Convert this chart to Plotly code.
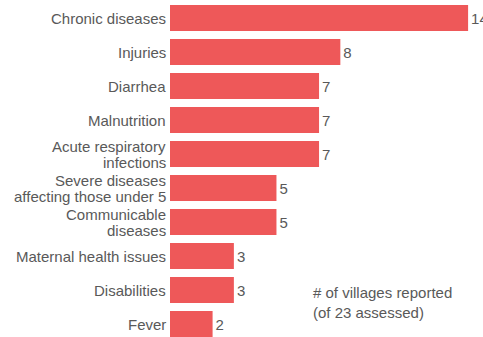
import plotly.graph_objects as go

categories = ["Chronic diseases", "Injuries", "Diarrhea", "Malnutrition",
              "Acute respiratory<br>infections",
              "Severe diseases<br>affecting those under 5",
              "Communicable<br>diseases", "Maternal health issues",
              "Disabilities", "Fever"]
values = [14, 8, 7, 7, 7, 5, 5, 3, 3, 2]
note = "# of villages reported<br>(of 23 assessed)"

FONT = "Liberation Sans, Arial, sans-serif"
GRAY = "#595959"
LINE_PITCH = 16

fig = go.Figure(go.Bar(
    x=values, y=categories, orientation="h",
    marker=dict(color="#EE5859", line=dict(width=0)),
    text=values, textposition="outside", cliponaxis=False,
    textfont=dict(family=FONT, size=15, color=GRAY),
    hoverinfo="skip",
))

# category labels as annotations so multi-line labels can use tight line spacing
annotations = []
for cat in categories:
    lines = cat.split("<br>")
    n = len(lines)
    for i, ln in enumerate(lines):
        annotations.append(dict(
            text=ln, xref="paper", yref="y", x=0, y=cat,
            xanchor="right", yanchor="middle", xshift=-2,
            yshift=((n - 1) / 2 - i) * LINE_PITCH,
            showarrow=False, font=dict(family=FONT, size=15, color=GRAY)))

annotations.append(dict(
    text=note, xref="paper", yref="paper", x=(311 - 170) / 313, y=(337 - 282) / 336,
    xanchor="left", yanchor="top", align="left", showarrow=False,
    font=dict(family=FONT, size=15, color=GRAY)))

fig.update_layout(
    width=483, height=337,
    margin=dict(l=170, r=0, t=1, b=0),
    paper_bgcolor="white", plot_bgcolor="white",
    bargap=0.235, showlegend=False,
    font=dict(family=FONT, size=15, color=GRAY),
    xaxis=dict(range=[0, 14.7], visible=False, showgrid=False, zeroline=False),
    yaxis=dict(range=[9.382, -0.5], showgrid=False, zeroline=False,
               showticklabels=False, ticks=""),
    annotations=annotations,
)

fig.write_html("out.html", config={"displayModeBar": False},
               post_script="document.body.style.margin='0';")
